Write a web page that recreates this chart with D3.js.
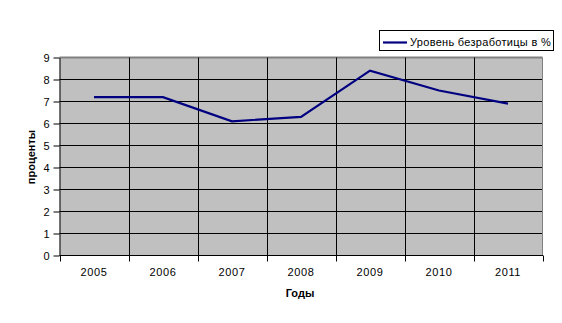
<!DOCTYPE html>
<html><head><meta charset="utf-8">
<script src="https://cdn.jsdelivr.net/npm/d3@7"></script>
<style>body{margin:0;background:#fff}svg text{font-family:"Liberation Sans",Arial,sans-serif}</style>
</head><body><svg id="c" width="562" height="323"></svg>
<script>
const years = ["2005","2006","2007","2008","2009","2010","2011"];
const unemployment = [7.2, 7.2, 6.1, 6.3, 8.4, 7.5, 6.9];
const yTicks = [0,1,2,3,4,5,6,7,8,9];
const seriesName = "Уровень безработицы в %";
const xTitle = "Годы", yTitle = "проценты";

const svg = d3.select("#c");
const L = 59.5, R = 542.5, T = 57.5, B = 255.5;
const x = d3.scaleBand().domain(years).range([L, R]);
const y = d3.scaleLinear().domain([0, 9]).range([B, T]);

svg.append("rect").attr("x", L).attr("y", T).attr("width", R - L).attr("height", B - T).attr("fill", "#c0c0c0");
svg.append("g").selectAll("line").data(yTicks.slice(1)).join("line")
  .attr("x1", L).attr("x2", R).attr("y1", d => y(d)).attr("y2", d => y(d))
  .attr("stroke", d => d === 9 ? "#808080" : "#000").attr("stroke-width", d => d === 9 ? 2 : 1);
svg.append("g").selectAll("line").data(years.slice(1)).join("line")
  .attr("x1", d => Math.round(x(d)) + 0.5).attr("x2", d => Math.round(x(d)) + 0.5).attr("y1", T).attr("y2", B)
  .attr("stroke", "#000");
svg.append("line").attr("x1", R).attr("x2", R).attr("y1", T).attr("y2", B).attr("stroke", "#808080").attr("stroke-width", 1);

const ya = svg.append("g").attr("transform", `translate(${L},0)`)
  .call(d3.axisLeft(y).tickValues(yTicks).tickSize(6).tickPadding(4).tickSizeOuter(0));
ya.select(".domain").attr("stroke", "#000");
ya.selectAll("line").attr("stroke", "#000");
ya.selectAll("text").attr("font-size", 11).attr("fill", "#000");

const xa = svg.append("g").attr("transform", `translate(0,${B})`)
  .call(d3.axisBottom(x).tickSize(0).tickPadding(13));
xa.select(".domain").remove();
xa.selectAll("text").attr("font-size", 11).attr("fill", "#000").attr("letter-spacing", "0.6px");
svg.append("line").attr("x1", L).attr("x2", R + 0.5).attr("y1", B).attr("y2", B).attr("stroke", "#000");
const bounds = years.map(d => x(d)).concat([x(years[years.length - 1]) + x.bandwidth()]);
svg.append("g").selectAll("line").data(bounds).join("line")
  .attr("x1", d => Math.round(d) + 0.5).attr("x2", d => Math.round(d) + 0.5).attr("y1", B).attr("y2", B + 6).attr("stroke", "#000");

const line = d3.line().x((d, i) => x(years[i]) + x.bandwidth() / 2).y(d => y(d));
svg.append("path").datum(unemployment).attr("d", line).attr("fill", "none").attr("stroke", "#000080").attr("stroke-width", 2.2);

svg.append("text").attr("x", 300).attr("y", 297).attr("text-anchor", "middle").attr("font-size", 11).attr("font-weight", "bold").text(xTitle);
svg.append("text").attr("transform", "translate(35,157) rotate(-90)").attr("text-anchor", "middle").attr("font-size", 11).attr("font-weight", "bold").text(yTitle);

svg.append("rect").attr("x", 379.5).attr("y", 30.5).attr("width", 174).attr("height", 20).attr("fill", "#fff").attr("stroke", "#000");
svg.append("line").attr("x1", 383).attr("x2", 407).attr("y1", 42.5).attr("y2", 42.5).attr("stroke", "#000080").attr("stroke-width", 2.2);
svg.append("text").attr("x", 410).attr("y", 46).attr("font-size", 11).attr("letter-spacing", "0.3px").text(seriesName);
</script></body></html>
